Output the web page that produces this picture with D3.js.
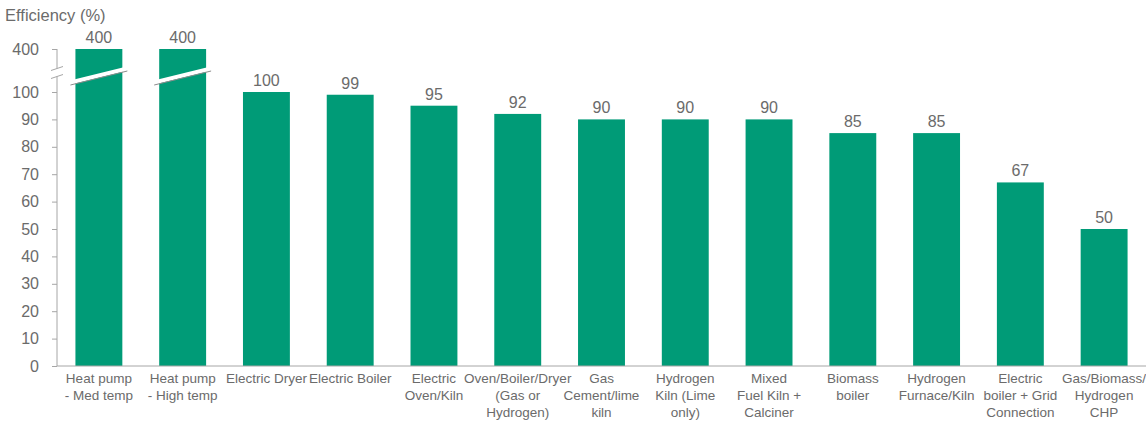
<!DOCTYPE html>
<html>
<head>
<meta charset="utf-8">
<script src="https://cdn.jsdelivr.net/npm/d3@7"></script>
<style>
  body { margin: 0; background: #fff; }
  text { font-family: "Liberation Sans", Arial, sans-serif; fill: #6b6b6b; }
</style>
</head>
<body>
<script>
// categories (line breaks as in the original labels)
const categories = [
  "Heat pump\n- Med temp", "Heat pump\n- High temp", "Electric Dryer", "Electric Boiler",
  "Electric\nOven/Kiln", "Oven/Boiler/Dryer\n(Gas or\nHydrogen)", "Gas\nCement/lime\nkiln",
  "Hydrogen\nKiln (Lime\nonly)", "Mixed\nFuel Kiln +\nCalciner", "Biomass\nboiler",
  "Hydrogen\nFurnace/Kiln", "Electric\nboiler + Grid\nConnection", "Gas/Biomass/\nHydrogen\nCHP"
];
const efficiency = [400, 400, 100, 99, 95, 92, 90, 90, 90, 85, 85, 67, 50];
const tickValues = [0, 10, 20, 30, 40, 50, 60, 70, 80, 90, 100, 400];

const W = 1146, H = 423;
const margin = { left: 57, right: 0, top: 49, bottom: 57 };
const barColor = "#009B77";
const axisColor = "#A6A6A6";

const svg = d3.select("body").append("svg")
  .attr("width", W).attr("height", H);

const x = d3.scaleBand()
  .domain(categories)
  .range([margin.left, W - margin.right])
  .paddingInner(0.44)
  .paddingOuter(0.22);

// broken axis: 0-100 linear, then jump to 400
const y = d3.scaleLinear()
  .domain([0, 100, 400])
  .range([H - margin.bottom, 92, margin.top]);

svg.append("text")
  .attr("x", 5).attr("y", 21)
  .style("font-size", "16.5px")
  .text("Efficiency (%)");

// bars
svg.selectAll("rect.bar")
  .data(efficiency)
  .enter().append("rect")
  .attr("class", "bar")
  .attr("x", (d, i) => x(categories[i]))
  .attr("width", x.bandwidth())
  .attr("y", d => y(d))
  .attr("height", d => y(0) - y(d))
  .attr("fill", barColor);

// value labels
svg.selectAll("text.val")
  .data(efficiency)
  .enter().append("text")
  .attr("class", "val")
  .attr("x", (d, i) => x(categories[i]) + x.bandwidth() / 2)
  .attr("y", d => y(d) - 6)
  .attr("text-anchor", "middle")
  .style("font-size", "16px")
  .text(d => d);

// break marks on the bars that go past 100
const breakY = (y(100) + y(400)) / 2 + 2;
efficiency.forEach((d, i) => {
  if (d <= 100) return;
  const x0 = x(categories[i]) - 5, x1 = x(categories[i]) + x.bandwidth() + 5;
  svg.append("line")
    .attr("x1", x0).attr("y1", breakY + 10).attr("x2", x1).attr("y2", breakY - 4)
    .attr("stroke", "#fff").attr("stroke-width", 4);
  svg.append("line")
    .attr("x1", x0).attr("y1", breakY + 12.5).attr("x2", x1).attr("y2", breakY - 1.5)
    .attr("stroke", "#8c8c8c").attr("stroke-width", 1);
});

// y axis
const yAxis = d3.axisLeft(y)
  .tickValues(tickValues)
  .tickSize(5)
  .tickPadding(13);
const gy = svg.append("g")
  .attr("transform", `translate(${margin.left},0)`)
  .call(yAxis);
gy.select(".domain").remove();
gy.selectAll(".tick line").attr("stroke", axisColor);
gy.selectAll(".tick text").style("font-size", "16px").attr("fill", "#6b6b6b");

// axis line with a gap at the break
const gapTop = breakY - 4, gapBot = breakY + 4;
svg.append("line")
  .attr("x1", margin.left).attr("x2", margin.left)
  .attr("y1", y(400)).attr("y2", gapTop)
  .attr("stroke", axisColor);
svg.append("line")
  .attr("x1", margin.left).attr("x2", margin.left)
  .attr("y1", gapBot).attr("y2", y(0))
  .attr("stroke", axisColor);
[gapTop, gapBot].forEach(yy => {
  svg.append("line")
    .attr("x1", margin.left - 6).attr("x2", margin.left + 6)
    .attr("y1", yy + 2).attr("y2", yy - 2)
    .attr("stroke", axisColor);
});

// x axis
svg.append("line")
  .attr("x1", margin.left).attr("x2", W)
  .attr("y1", y(0)).attr("y2", y(0))
  .attr("stroke", axisColor);

const labels = svg.selectAll("text.cat")
  .data(categories)
  .enter().append("text")
  .attr("class", "cat")
  .attr("text-anchor", "middle")
  .style("font-size", "13.5px")
  .attr("transform", d => `translate(${x(d) + x.bandwidth() / 2},${y(0) + 17})`);
labels.selectAll("tspan")
  .data(d => d.split("\n"))
  .enter().append("tspan")
  .attr("x", 0)
  .attr("dy", (d, i) => i === 0 ? 0 : 17)
  .text(d => d);
</script>
</body>
</html>
